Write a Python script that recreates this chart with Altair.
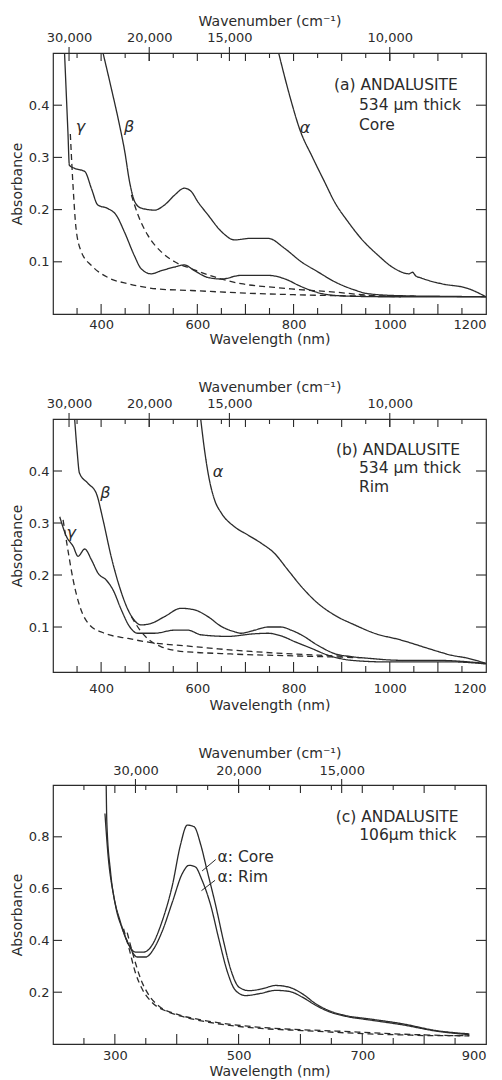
import altair as alt
import pandas as pd

FONT = "DejaVu Sans"
INK = "#2b2b2b"

# ---------------- Panel (a): ANDALUSITE 534 um, core ----------------
A_ALPHA_NM = [769, 795, 812, 840, 864, 885, 913, 940, 975, 1010, 1040, 1047, 1054, 1065, 1107, 1162, 1200]
A_ALPHA_ABS = [0.50, 0.408, 0.356, 0.299, 0.254, 0.215, 0.177, 0.145, 0.113, 0.087, 0.077, 0.080, 0.073, 0.069, 0.058, 0.049, 0.033]
A_BETA_NM = [404, 421, 438, 449, 459, 470, 483, 511, 532, 553, 573, 587, 601, 622, 650, 677, 712, 747, 781, 816, 850, 885, 927, 954, 1023, 1100, 1200]
A_BETA_ABS = [0.50, 0.433, 0.363, 0.312, 0.254, 0.215, 0.203, 0.199, 0.209, 0.228, 0.241, 0.235, 0.215, 0.190, 0.158, 0.142, 0.145, 0.145, 0.126, 0.100, 0.081, 0.062, 0.046, 0.039, 0.035, 0.034, 0.033]
A_GAMMA_NM = [324, 331, 334, 345, 366, 380, 393, 414, 431, 449, 469, 483, 504, 525, 553, 573, 594, 622, 650, 691, 747, 788, 810, 840, 871, 920, 1000, 1100, 1200]
A_GAMMA_ABS = [0.50, 0.349, 0.285, 0.279, 0.273, 0.240, 0.209, 0.202, 0.190, 0.156, 0.112, 0.087, 0.077, 0.083, 0.090, 0.094, 0.083, 0.070, 0.067, 0.074, 0.074, 0.065, 0.055, 0.044, 0.037, 0.034, 0.033, 0.033, 0.033]
A_GAMMA_BASE_NM = [336, 342, 348, 359, 380, 414, 456, 518, 587, 700, 800, 900, 1000, 1050]
A_GAMMA_BASE_ABS = [0.345, 0.240, 0.163, 0.119, 0.093, 0.070, 0.058, 0.048, 0.045, 0.040, 0.037, 0.035, 0.034, 0.034]
A_BETA_BASE_NM = [463, 477, 497, 525, 553, 587, 636, 691, 760, 795, 885, 954, 1023]
A_BETA_BASE_ABS = [0.228, 0.189, 0.151, 0.119, 0.100, 0.087, 0.071, 0.058, 0.051, 0.048, 0.042, 0.036, 0.033]

# ---------------- Panel (b): ANDALUSITE 534 um, rim ----------------
B_ALPHA_NM = [607, 615, 625, 636, 650, 677, 705, 733, 760, 788, 816, 850, 885, 927, 968, 1023, 1079, 1100, 1127, 1162, 1200]
B_ALPHA_ABS = [0.50, 0.44, 0.383, 0.344, 0.319, 0.293, 0.277, 0.261, 0.242, 0.210, 0.178, 0.146, 0.123, 0.104, 0.088, 0.075, 0.059, 0.053, 0.046, 0.040, 0.030]
B_BETA_NM = [345, 350, 355, 373, 390, 404, 421, 438, 456, 469, 483, 504, 532, 566, 594, 622, 650, 677, 691, 719, 747, 774, 795, 816, 850, 885, 920, 954, 1023, 1093, 1200]
B_BETA_ABS = [0.50, 0.44, 0.396, 0.376, 0.357, 0.306, 0.235, 0.178, 0.133, 0.113, 0.104, 0.107, 0.120, 0.136, 0.133, 0.120, 0.101, 0.091, 0.088, 0.094, 0.100, 0.100, 0.094, 0.085, 0.065, 0.049, 0.043, 0.040, 0.036, 0.036, 0.030]
B_GAMMA_NM = [314, 328, 342, 352, 366, 380, 394, 411, 425, 442, 459, 476, 511, 553, 580, 608, 663, 719, 747, 774, 802, 837, 871, 920, 989, 1058, 1127, 1200]
B_GAMMA_ABS = [0.312, 0.274, 0.255, 0.236, 0.250, 0.229, 0.203, 0.190, 0.171, 0.133, 0.101, 0.088, 0.088, 0.094, 0.094, 0.085, 0.082, 0.087, 0.088, 0.083, 0.072, 0.059, 0.046, 0.036, 0.033, 0.033, 0.033, 0.029]
B_GAMMA_BASE_NM = [321, 331, 342, 356, 376, 407, 456, 504, 573, 643, 712, 781, 850, 920]
B_GAMMA_BASE_ABS = [0.306, 0.248, 0.190, 0.139, 0.104, 0.088, 0.078, 0.070, 0.064, 0.058, 0.053, 0.049, 0.046, 0.043]
B_BETA_BASE_NM = [463, 480, 500, 525, 553, 600, 650, 700, 780, 860, 940]
B_BETA_BASE_ABS = [0.120, 0.095, 0.075, 0.062, 0.055, 0.051, 0.049, 0.047, 0.045, 0.043, 0.041]

# ---------------- Panel (c): ANDALUSITE 106 um, alpha core / rim ----------------
C_CORE_NM = [286, 287, 293, 301, 312, 323, 333, 347, 360, 376, 393, 406, 417, 428, 439, 449, 463, 476, 487, 501, 517, 538, 560, 582, 603, 625, 646, 673, 711, 765, 819, 873]
C_CORE_ABS = [1.0, 0.858, 0.665, 0.535, 0.445, 0.381, 0.355, 0.355, 0.381, 0.471, 0.613, 0.768, 0.845, 0.839, 0.768, 0.671, 0.535, 0.394, 0.290, 0.219, 0.206, 0.213, 0.226, 0.219, 0.194, 0.155, 0.129, 0.110, 0.097, 0.078, 0.052, 0.039]
C_RIM_NM = [284, 289, 298, 309, 323, 336, 350, 363, 376, 393, 409, 420, 430, 441, 455, 468, 482, 495, 511, 533, 560, 582, 603, 625, 646, 673, 711, 765, 819, 873]
C_RIM_ABS = [0.89, 0.729, 0.574, 0.471, 0.381, 0.336, 0.336, 0.368, 0.432, 0.548, 0.658, 0.690, 0.684, 0.632, 0.535, 0.406, 0.278, 0.207, 0.187, 0.194, 0.207, 0.203, 0.181, 0.149, 0.125, 0.107, 0.093, 0.074, 0.050, 0.036]
C_BASE1_NM = [314, 323, 333, 344, 360, 387, 414, 452, 495, 549, 603, 657, 711, 765, 819, 873]
C_BASE1_ABS = [0.445, 0.368, 0.277, 0.213, 0.161, 0.123, 0.103, 0.084, 0.069, 0.058, 0.052, 0.045, 0.039, 0.035, 0.032, 0.032]
C_BASE2_NM = [320, 330, 342, 356, 372, 400, 440, 490, 549, 657, 765, 873]
C_BASE2_ABS = [0.430, 0.340, 0.250, 0.185, 0.145, 0.115, 0.093, 0.075, 0.062, 0.050, 0.038, 0.031]

# ---------------- axes / annotations ----------------
AB_XDOM = [300, 1200]
AB_XLABELS = [400, 600, 800, 1000, 1200]
AB_XTICKS = list(range(350, 1200, 50))
AB_WAVENUMBERS = [30000, 20000, 15000, 10000]
A_YDOM = [0.0, 0.5]
B_YDOM = [0.0135, 0.5]
AB_YLABELS = [0.1, 0.2, 0.3, 0.4]

C_XDOM = [200, 900]
C_XLABELS = [300, 500, 700, 900]
C_XTICKS = list(range(250, 900, 50))
C_WAVENUMBERS = [30000, 20000, 15000]
C_YDOM = [0.0, 1.0]
C_YLABELS = [0.2, 0.4, 0.6, 0.8]

A_TEXT = [("(a) ANDALUSITE", 884, 0.438), ("534 \u03bcm thick", 936, 0.401), ("Core", 936, 0.363)]
A_GREEK = [("\u03b3", 357, 0.359), ("\u03b2", 458, 0.359), ("\u03b1", 824, 0.356)]
B_TEXT = [("(b) ANDALUSITE", 888, 0.440), ("534 \u03bcm thick", 936, 0.405), ("Rim", 936, 0.370)]
B_GREEK = [("\u03b2", 409, 0.357), ("\u03b3", 338, 0.280), ("\u03b1", 643, 0.399)]
C_TEXT = [("(c) ANDALUSITE", 657, 0.877), ("106\u03bcm thick", 695, 0.807),
          ("\u03b1: Core", 466, 0.723), ("\u03b1: Rim", 466, 0.643)]
C_LEADERS_NM = [463, 441, 462, 440]
C_LEADERS_ABS = [0.712, 0.668, 0.632, 0.592]


def panel(curves, xdom, ydom, W, H, xlabels, xticks, ylabels, wavenumbers, texts,
          greeks=None, leaders=None, yfmt=".1f", lab_pad=4, bot_title_y=25, top_lab_pad=9, top_title_y=-32):
    xs = alt.Scale(domain=xdom, nice=False, zero=False)
    ys = alt.Scale(domain=ydom, nice=False, zero=False)
    rows = []
    for name, style, nms, vals in curves:
        for i, (n, v) in enumerate(zip(nms, vals)):
            rows.append({"curve": name, "style": style, "nm": n, "abs": v, "i": i})
    df = pd.DataFrame(rows)

    lines = alt.Chart(df).mark_line(interpolate="monotone", clip=True, strokeWidth=1.3, color=INK).encode(
        x=alt.X("nm:Q", scale=xs, axis=alt.Axis(orient="bottom", values=xlabels, format="d",
                                                 title="Wavelength (nm)", ticks=False, domain=False,
                                                 grid=False, labelPadding=lab_pad, titleY=bot_title_y,
                                                 titleBaseline="middle")),
        y=alt.Y("abs:Q", scale=ys, axis=alt.Axis(orient="left", values=ylabels, format=yfmt,
                                                  title="Absorbance", ticks=False, domain=False,
                                                  grid=False, labelPadding=4, titlePadding=4)),
        detail="curve:N",
        order="i:Q",
        strokeDash=alt.StrokeDash("style:N", scale=alt.Scale(domain=["solid", "dashed"],
                                                             range=[[1, 0], [6, 4]]), legend=None),
    )

    wn = pd.DataFrame({"pos": [1e7 / w for w in wavenumbers]})
    top = alt.Chart(wn).mark_rule(color=INK, strokeWidth=1.1).encode(
        x=alt.X("pos:Q", scale=xs, axis=alt.Axis(orient="top", values=list(wn["pos"]),
                                                  labelExpr="format(round(1e7/datum.value), ',')",
                                                  title="Wavenumber (cm\u207b\u00b9)", ticks=False,
                                                  domain=False, grid=False, labelPadding=top_lab_pad,
                                                  titleY=top_title_y, titleBaseline="middle")),
        y=alt.value(-6), y2=alt.value(8),
    )

    tk = pd.DataFrame({"nm": xticks})
    tk["major"] = tk["nm"] % 100 == 0
    major = alt.Chart(tk[tk["major"]])
    minor = alt.Chart(tk[~tk["major"]])
    xenc = alt.X("nm:Q", scale=xs, axis=None)
    rule = dict(color=INK, strokeWidth=1.1)
    bot_major = major.mark_rule(**rule).encode(x=xenc, y=alt.value(H), y2=alt.value(H - 10))
    bot_minor = minor.mark_rule(**rule).encode(x=xenc, y=alt.value(H), y2=alt.value(H - 6))
    top_major = major.mark_rule(**rule).encode(x=xenc, y=alt.value(0), y2=alt.value(8))
    top_minor = minor.mark_rule(**rule).encode(x=xenc, y=alt.value(0), y2=alt.value(5))

    yt = pd.DataFrame({"v": ylabels})
    yenc = alt.Y("v:Q", scale=ys, axis=None)
    left_t = alt.Chart(yt).mark_rule(**rule).encode(y=yenc, x=alt.value(0), x2=alt.value(9))
    right_t = alt.Chart(yt).mark_rule(**rule).encode(y=yenc, x=alt.value(W), x2=alt.value(W - 10))

    tdf = pd.DataFrame(texts, columns=["t", "nm", "abs"])
    txt = alt.Chart(tdf).mark_text(align="left", baseline="middle", font=FONT, fontSize=15.5, color=INK).encode(
        x=alt.X("nm:Q", scale=xs, axis=None), y=alt.Y("abs:Q", scale=ys, axis=None), text="t:N")

    layers = [lines, top, bot_major, bot_minor, top_major, top_minor, left_t, right_t, txt]
    if greeks:
        gdf = pd.DataFrame(greeks, columns=["t", "nm", "abs"])
        layers.append(alt.Chart(gdf).mark_text(align="center", baseline="middle", font=FONT, fontSize=16,
                                               fontStyle="italic", color=INK).encode(
            x=alt.X("nm:Q", scale=xs, axis=None), y=alt.Y("abs:Q", scale=ys, axis=None), text="t:N"))
    if leaders:
        nms, vals = leaders
        ldf = pd.DataFrame({"lx": nms[0::2], "lx2": nms[1::2], "ly": vals[0::2], "ly2": vals[1::2]})
        layers.append(alt.Chart(ldf).mark_rule(color=INK, strokeWidth=1).encode(
            x=alt.X("lx:Q", scale=xs, axis=None), x2="lx2:Q",
            y=alt.Y("ly:Q", scale=ys, axis=None), y2="ly2:Q"))

    return alt.layer(*layers).resolve_axis(x="independent", y="independent").properties(width=W, height=H)


pa = panel([
    ("alpha", "solid", A_ALPHA_NM, A_ALPHA_ABS),
    ("beta", "solid", A_BETA_NM, A_BETA_ABS),
    ("gamma", "solid", A_GAMMA_NM, A_GAMMA_ABS),
    ("gamma_base", "dashed", A_GAMMA_BASE_NM, A_GAMMA_BASE_ABS),
    ("beta_base", "dashed", A_BETA_BASE_NM, A_BETA_BASE_ABS),
], AB_XDOM, A_YDOM, 433, 261, AB_XLABELS, AB_XTICKS, AB_YLABELS, AB_WAVENUMBERS, A_TEXT, A_GREEK,
    lab_pad=4, bot_title_y=25)

pb = panel([
    ("alpha", "solid", B_ALPHA_NM, B_ALPHA_ABS),
    ("beta", "solid", B_BETA_NM, B_BETA_ABS),
    ("gamma", "solid", B_GAMMA_NM, B_GAMMA_ABS),
    ("gamma_base", "dashed", B_GAMMA_BASE_NM, B_GAMMA_BASE_ABS),
    ("beta_base", "dashed", B_BETA_BASE_NM, B_BETA_BASE_ABS),
], AB_XDOM, B_YDOM, 433, 253, AB_XLABELS, AB_XTICKS, AB_YLABELS, AB_WAVENUMBERS, B_TEXT, B_GREEK,
    lab_pad=10, bot_title_y=33)

pc = panel([
    ("core", "solid", C_CORE_NM, C_CORE_ABS),
    ("rim", "solid", C_RIM_NM, C_RIM_ABS),
    ("base1", "dashed", C_BASE1_NM, C_BASE1_ABS),
    ("base2", "dashed", C_BASE2_NM, C_BASE2_ABS),
], C_XDOM, C_YDOM, 433, 259, C_XLABELS, C_XTICKS, C_YLABELS, C_WAVENUMBERS, C_TEXT,
    leaders=(C_LEADERS_NM, C_LEADERS_ABS), lab_pad=5, bot_title_y=27, top_lab_pad=8)

chart = alt.vconcat(pa, pb, pc, spacing=32).properties(
    padding={"left": 1, "top": 5, "right": 0, "bottom": 0},
    background="white",
).configure_view(stroke=INK, strokeWidth=1.2).configure_axis(
    labelFont=FONT, titleFont=FONT, labelFontSize=13, titleFontSize=14,
    titleFontWeight="normal", labelColor=INK, titleColor=INK
)

chart.save("out.html", embed_options={"renderer": "svg", "actions": False})
